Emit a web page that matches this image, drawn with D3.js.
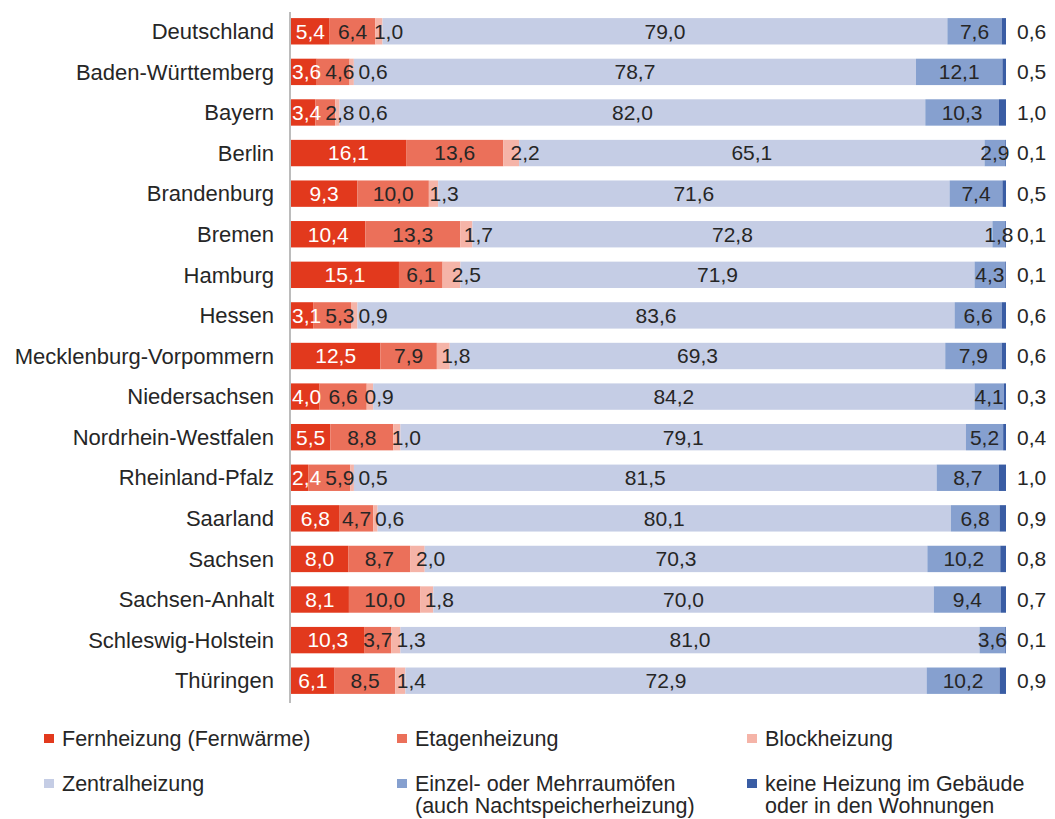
<!DOCTYPE html>
<html><head><meta charset="utf-8">
<script src="https://cdn.jsdelivr.net/npm/d3@7"></script>
<style>
body{margin:0;background:#fff;}
text{font-family:"Liberation Sans",Arial,sans-serif;fill:#262626;}
</style></head>
<body><svg id="c" width="1055" height="819"></svg>
<script>
const categories = ["Deutschland","Baden-Württemberg","Bayern","Berlin","Brandenburg","Bremen","Hamburg","Hessen","Mecklenburg-Vorpommern","Niedersachsen","Nordrhein-Westfalen","Rheinland-Pfalz","Saarland","Sachsen","Sachsen-Anhalt","Schleswig-Holstein","Thüringen"];
const seriesNames = ["Fernheizung (Fernwärme)","Etagenheizung","Blockheizung","Zentralheizung","Einzel- oder Mehrraumöfen\n(auch Nachtspeicherheizung)","keine Heizung im Gebäude\noder in den Wohnungen"];
const fernheizung   = [5.4,3.6,3.4,16.1,9.3,10.4,15.1,3.1,12.5,4.0,5.5,2.4,6.8,8.0,8.1,10.3,6.1];
const etagenheizung = [6.4,4.6,2.8,13.6,10.0,13.3,6.1,5.3,7.9,6.6,8.8,5.9,4.7,8.7,10.0,3.7,8.5];
const blockheizung  = [1.0,0.6,0.6,2.2,1.3,1.7,2.5,0.9,1.8,0.9,1.0,0.5,0.6,2.0,1.8,1.3,1.4];
const zentralheizung= [79.0,78.7,82.0,65.1,71.6,72.8,71.9,83.6,69.3,84.2,79.1,81.5,80.1,70.3,70.0,81.0,72.9];
const einzeloefen   = [7.6,12.1,10.3,2.9,7.4,1.8,4.3,6.6,7.9,4.1,5.2,8.7,6.8,10.2,9.4,3.6,10.2];
const keineHeizung  = [0.6,0.5,1.0,0.1,0.5,0.1,0.1,0.6,0.6,0.3,0.4,1.0,0.9,0.8,0.7,0.1,0.9];
const colors = ["#E2391D","#EB705A","#F5B4A8","#C5CDE5","#86A0CF","#3A5DA4"];

const seriesData = [fernheizung,etagenheizung,blockheizung,zentralheizung,einzeloefen,keineHeizung];
const svg = d3.select("#c");
const x = d3.scaleLinear().domain([0,100]).range([291,1006]);
const y = d3.scaleBand().domain(categories).range([11,701]).paddingInner(0.35).paddingOuter(0.175);
const fmt = v => v.toFixed(1).replace(".", ",");

// category labels
svg.append("g").selectAll("text").data(categories).join("text")
  .attr("x",274).attr("y",d=>y(d)+y.bandwidth()/2).attr("dy","0.35em")
  .attr("text-anchor","end").style("font-size","22px").text(d=>d);

categories.forEach((cat,i)=>{
  const vals = seriesData.map(s=>s[i]);
  const total = d3.sum(vals);
  let acc = 0;
  const segs = vals.map((v,k)=>{ const s={k,v,x0:acc/total*100,x1:(acc+v)/total*100}; acc+=v; return s; });
  const g = svg.append("g");
  g.selectAll("rect").data(segs).join("rect")
    .attr("x",d=>x(d.x0)).attr("width",d=>x(d.x1)-x(d.x0))
    .attr("y",y(cat)).attr("height",y.bandwidth()).attr("fill",d=>colors[d.k]);
  let prevEnd = 292;
  const cy = y(cat)+y.bandwidth()/2;
  segs.forEach(d=>{
    const t = g.append("text").attr("y",cy).attr("dy","0.35em").style("font-size","21px")
      .text(fmt(d.v));
    if(d.k===0) t.style("fill","#fff");
    const w = t.node().getComputedTextLength();
    let start;
    if(d.k===5){ start = x(100)+11; }
    else {
      let center = (x(d.x0)+x(d.x1))/2;
      if(d.k===2) center = x(d.x1)+6;
      start = center - w/2;
      if(d.k<=2) start = Math.max(start, prevEnd + (d.k===0?0:4));
    }
    t.attr("x",start);
    prevEnd = start + w;
  });
});

// axis line
svg.append("line").attr("x1",290).attr("x2",290).attr("y1",12).attr("y2",703)
  .attr("stroke","#A6A6A6").attr("stroke-width",1.5);

// legend
const legPos = [[44,734],[397,734],[747,734],[44,779],[397,779],[747,779]];
seriesNames.forEach((n,k)=>{
  const [lx,ly] = legPos[k];
  svg.append("rect").attr("x",lx).attr("y",ly).attr("width",10).attr("height",9).attr("fill",colors[k]);
  n.split("\n").forEach((line,j)=>{
    svg.append("text").attr("x",lx+18).attr("y",ly+12+j*22).style("font-size","21.5px").text(line);
  });
});
</script></body></html>
